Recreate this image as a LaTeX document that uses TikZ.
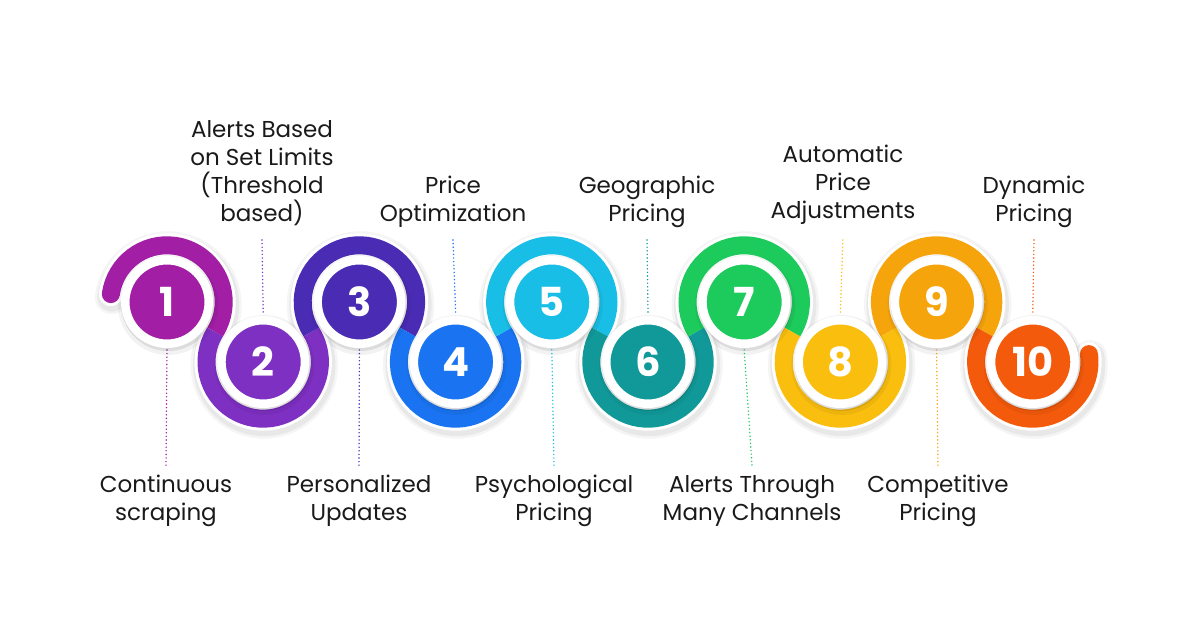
\documentclass[tikz,border=0pt]{standalone}
\usepackage{fontspec}
\setmainfont{Poppins}
\usetikzlibrary{calc}
\definecolor{c1}{HTML}{A11EA5}
\definecolor{c2}{HTML}{7E30C2}
\definecolor{c3}{HTML}{4A2BB3}
\definecolor{c4}{HTML}{1A74F2}
\definecolor{c5}{HTML}{18BEE5}
\definecolor{c6}{HTML}{11999A}
\definecolor{c7}{HTML}{1CCB5C}
\definecolor{c8}{HTML}{F9BE0E}
\definecolor{c9}{HTML}{F6A40B}
\definecolor{c10}{HTML}{F45A0C}
\definecolor{txt}{HTML}{1A1A1A}
\tikzset{
  bandseg/.style={line width=18pt},
  numnode/.style={circle, draw=white, line width=8.5pt, minimum size=83.5pt, inner sep=0pt,
    text=white, font=\fontsize{40}{40}\selectfont\bfseries},
  dots/.style={line width=1.6pt, dash pattern=on 0pt off 3.6pt, line cap=round},
  lbl/.style={align=center, inner sep=0pt, text=txt, font=\fontsize{23}{28}\selectfont},
  bandpath/.style={insert path={(p1) ++(172:56.7pt)
    arc[start angle=172, end angle=-31.95, radius=56.7pt]
    arc[start angle=148.05, end angle=391.95, radius=56.7pt]
    arc[start angle=211.95, end angle=-31.95, radius=56.7pt]
    arc[start angle=148.05, end angle=391.95, radius=56.7pt]
    arc[start angle=211.95, end angle=-31.95, radius=56.7pt]
    arc[start angle=148.05, end angle=391.95, radius=56.7pt]
    arc[start angle=211.95, end angle=-31.95, radius=56.7pt]
    arc[start angle=148.05, end angle=391.95, radius=56.7pt]
    arc[start angle=211.95, end angle=-31.95, radius=56.7pt]
    arc[start angle=148.05, end angle=368, radius=56.7pt]}}
}
\begin{document}
\begin{tikzpicture}[x=1pt,y=1pt]
\fill[white] (0,0) rectangle (1200,628);
\useasboundingbox (0,0) rectangle (1200,628);
% centres
\coordinate (p1) at (167,326);
\coordinate (p2) at (263.2,266);
\coordinate (p3) at (359.4,326);
\coordinate (p4) at (455.6,266);
\coordinate (p5) at (551.8,326);
\coordinate (p6) at (648,266);
\coordinate (p7) at (744.2,326);
\coordinate (p8) at (840.4,266);
\coordinate (p9) at (936.6,326);
\coordinate (p10) at (1032.8,266);
% band shadow and white border
\begin{scope}[transform canvas={xshift=1pt,yshift=-3pt}]
\draw[black, opacity=0.04, line width=34pt, line cap=round, bandpath];
\draw[black, opacity=0.05, line width=29pt, line cap=round, bandpath];
\end{scope}
\draw[white, line width=24pt, line cap=round, bandpath];
% coloured segments
\draw[bandseg,c1] (p1) ++(172:56.7pt) arc[start angle=172, end angle=-31.95, radius=56.7pt];
\fill[c1] (p1) ++(172:56.7pt) circle[radius=9pt];
\draw[bandseg,c2] (p2) ++(148.05:56.7pt) arc[start angle=148.05, end angle=391.95, radius=56.7pt];
\draw[bandseg,c3] (p3) ++(211.95:56.7pt) arc[start angle=211.95, end angle=-31.95, radius=56.7pt];
\draw[bandseg,c4] (p4) ++(148.05:56.7pt) arc[start angle=148.05, end angle=391.95, radius=56.7pt];
\draw[bandseg,c5] (p5) ++(211.95:56.7pt) arc[start angle=211.95, end angle=-31.95, radius=56.7pt];
\draw[bandseg,c6] (p6) ++(148.05:56.7pt) arc[start angle=148.05, end angle=391.95, radius=56.7pt];
\draw[bandseg,c7] (p7) ++(211.95:56.7pt) arc[start angle=211.95, end angle=-31.95, radius=56.7pt];
\draw[bandseg,c8] (p8) ++(148.05:56.7pt) arc[start angle=148.05, end angle=391.95, radius=56.7pt];
\draw[bandseg,c9] (p9) ++(211.95:56.7pt) arc[start angle=211.95, end angle=-31.95, radius=56.7pt];
\draw[bandseg,c10] (p10) ++(148.05:56.7pt) arc[start angle=148.05, end angle=368, radius=56.7pt];
\fill[c10] (p10) ++(8:56.7pt) circle[radius=9pt];
% number circle shadows
\foreach \k in {1,...,10}{
  \fill[black, opacity=0.05] ([xshift=1pt,yshift=-3pt]p\k) circle[radius=50pt];
  \fill[black, opacity=0.09] ([xshift=1pt,yshift=-2pt]p\k) circle[radius=47pt];
}
% number circles
\node[numnode, fill=c1] (n1) at (p1) {1};
\node[numnode, fill=c2] (n2) at (p2) {2};
\node[numnode, fill=c3] (n3) at (p3) {3};
\node[numnode, fill=c4] (n4) at (p4) {4};
\node[numnode, fill=c5] (n5) at (p5) {5};
\node[numnode, fill=c6] (n6) at (p6) {6};
\node[numnode, fill=c7] (n7) at (p7) {7};
\node[numnode, fill=c8] (n8) at (p8) {8};
\node[numnode, fill=c9] (n9) at (p9) {9};
\node[numnode, fill=c10] (n10) at (p10) {10};
% labels below (odd)
\node[lbl, anchor=north] (l1) at (166,155.6) {\strut Continuous\\scraping};
\node[lbl, anchor=north] (l3) at (359,155.6) {\strut Personalized\\Updates};
\node[lbl, anchor=north] (l5) at (554,155.6) {\strut Psychological\\Pricing};
\node[lbl, anchor=north] (l7) at (752,155.6) {\strut Alerts Through\\Many Channels};
\node[lbl, anchor=north] (l9) at (938,155.6) {\strut Competitive\\Pricing};
% labels above (even)
\node[lbl, anchor=south] (l2) at (262,398) {Alerts Based\\on Set Limits\\(Threshold\\based)\strut};
\node[lbl, anchor=south] (l4) at (453,398) {Price\\Optimization\strut};
\node[lbl, anchor=south] (l6) at (647,398) {Geographic\\Pricing\strut};
\node[lbl, anchor=south] (l8) at (843,401) {Automatic\\Price\\Adjustments\strut};
\node[lbl, anchor=south] (l10) at (1034,398) {Dynamic\\Pricing\strut};
% dotted leaders
\foreach \k in {1,3,5,7,9}{
  \draw[dots, c\k] ([yshift=-48pt]n\k.center) -- ([yshift=7pt]l\k.north);
}
\foreach \k in {2,4,6,8,10}{
  \draw[dots, c\k] ([yshift=50pt]n\k.center) -- ([yshift=-10pt]l\k.south);
}
\end{tikzpicture}
\end{document}
